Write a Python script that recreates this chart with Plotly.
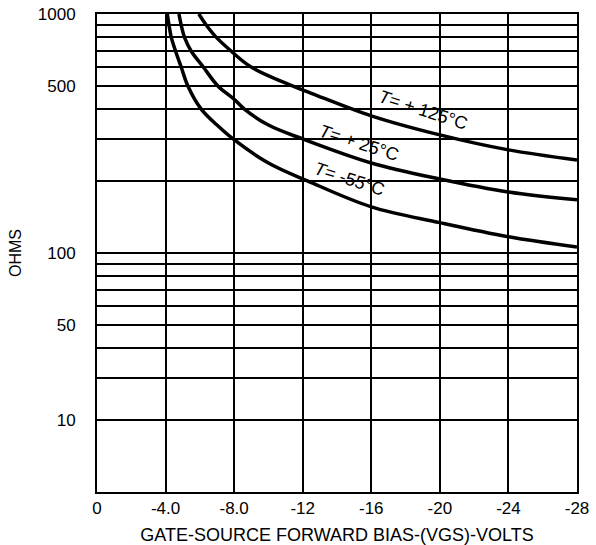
import plotly.graph_objects as go

# Gate-source forward bias (V) and on-resistance (ohms) for each temperature
vgs_m55 = [-4.1, -4.2, -4.33, -4.58, -4.91, -5.3, -6.08, -7.0, -7.94, -10.0, -12.3, -16.0, -20.0, -24.0, -28.0]
ohms_m55 = [1000, 900, 800, 700, 600, 500, 400, 343, 300, 238, 200, 156, 134, 117, 106]

vgs_p25 = [-4.78, -4.91, -5.1, -5.49, -6.2, -7.05, -8.0, -8.6, -10.0, -12.0, -16.0, -20.0, -24.0, -28.0]
ohms_p25 = [1000, 900, 800, 700, 600, 500, 440, 400, 343, 300, 238, 204, 180, 167]

vgs_p125 = [-5.94, -6.37, -6.95, -7.82, -8.99, -11.4, -12.5, -16.0, -20.0, -24.0, -28.0]
ohms_p125 = [1000, 900, 800, 700, 600, 500, 466, 375, 312, 270, 245]

x_ticks = [0, -4, -8, -12, -16, -20, -24, -28]
x_labels = ["0", "-4.0", "-8.0", "-12", "-16", "-20", "-24", "-28"]

y_grid = [20, 30, 40, 50, 60, 70, 80, 90, 100, 200, 300, 400, 500, 600, 700, 800, 900, 1000]
y_label_map = {20: "10", 50: "50", 100: "100", 500: "500", 1000: "1000"}
y_labels = [y_label_map.get(v, "") for v in y_grid]

FONT = "Liberation Sans, Arial, sans-serif"

fig = go.Figure()
for xs, ys in [(vgs_m55, ohms_m55), (vgs_p25, ohms_p25), (vgs_p125, ohms_p125)]:
    fig.add_trace(go.Scatter(
        x=xs, y=ys, mode="lines",
        line=dict(color="black", width=3.5, shape="spline", smoothing=1.0),
        hoverinfo="skip", showlegend=False,
    ))

curve_labels = [
    ("<i>T</i>= + 125°C", -19.0, 2.597),
    ("<i>T</i>= + 25°C", -15.3, 2.462),
    ("<i>T</i>= -55°C", -14.7, 2.308),
]
for text, ax, ay in curve_labels:
    fig.add_annotation(
        x=ax, y=ay, xref="x", yref="y", text=text, showarrow=False,
        textangle=18, font=dict(family=FONT, size=18, color="black"),
    )

fig.update_layout(
    width=596, height=545,
    margin=dict(l=97, r=19, t=14, b=53),
    paper_bgcolor="white", plot_bgcolor="white",
    font=dict(family=FONT, size=17, color="black"),
)
fig.update_xaxes(
    range=[0, -28], tickvals=x_ticks, ticktext=x_labels,
    showgrid=True, gridcolor="black", gridwidth=2,
    showline=True, linecolor="black", linewidth=2, mirror=True,
    zeroline=False, ticks="", tickfont=dict(size=17),
    title=dict(text="GATE-SOURCE FORWARD BIAS-(VGS)-VOLTS", standoff=12,
               font=dict(size=18)),
    automargin=False,
)
fig.update_yaxes(
    type="log", range=[1, 3], tickvals=y_grid, ticktext=y_labels,
    showgrid=True, gridcolor="black", gridwidth=2,
    showline=True, linecolor="black", linewidth=2, mirror=True,
    zeroline=False, ticks="", tickfont=dict(size=17), ticklabelstandoff=16,
    title=dict(text="OHMS", standoff=12, font=dict(size=16)),
    automargin=False,
)

fig.write_html("out.html")
